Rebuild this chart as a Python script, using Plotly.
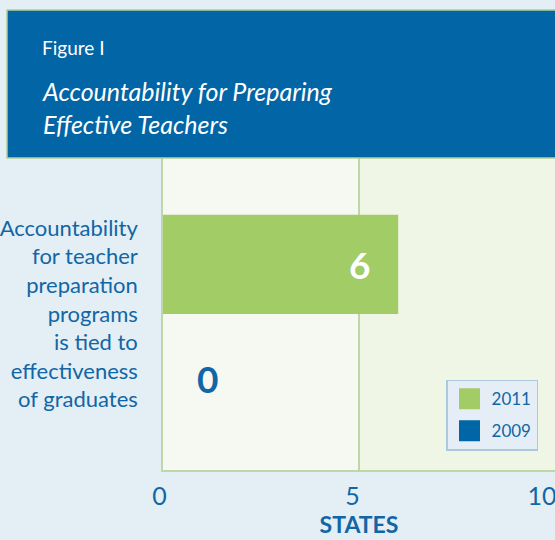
import plotly.graph_objects as go

# ---- data ----
categories = ["Accountability<br>for teacher<br>preparation<br>programs<br>is tied to<br>effectiveness<br>of graduates"]
years = ["2009", "2011"]
values_2009 = [0]
values_2011 = [6]
x_tick_vals = [0, 5, 10]
x_tick_text = ["\u00a0\u00a0\u00a00", "\u00a0\u00a05", "10"]

# ---- style ----
GREEN = "#a2cd66"
BLUE = "#0066a6"
TEXT = "#1166a6"
GRID = "#bdd7a6"
FONT = "Lato"
BARGAP = 0.364

fig = go.Figure()
fig.add_trace(go.Bar(y=categories, x=values_2009, orientation="h", name=years[0],
                     marker=dict(color=BLUE, line=dict(width=0)), showlegend=False))
fig.add_trace(go.Bar(y=categories, x=values_2011, orientation="h", name=years[1],
                     marker=dict(color=GREEN, line=dict(width=0)), showlegend=False))
# legend entries (larger square swatches); 2011 listed first
for yr, col, grp, rank in [(years[1], GREEN, "b", 1), (years[0], BLUE, "a", 2)]:
    fig.add_trace(go.Scatter(x=[None], y=[None], mode="markers", name=yr, legendgroup=grp,
                             legendrank=rank,
                             marker=dict(symbol="square", size=16, color=col,
                                         line=dict(color=col, width=5))))

offset = (1 - BARGAP) / 4  # centre of each grouped bar relative to category
annotations = [
    dict(x=values_2011[0], y=offset, xref="x", yref="y", text=str(values_2011[0]),
         showarrow=False, xanchor="right", xshift=-26,
         font=dict(family=FONT, size=37, color="white", weight="bold")),
    dict(x=values_2009[0], y=-offset, xref="x", yref="y", text=str(values_2009[0]),
         showarrow=False, xanchor="left", xshift=32, yshift=-15,
         font=dict(family=FONT, size=37, color=TEXT, weight="bold")),
    dict(x=-0.3138, y=1.353, xref="paper", yref="paper", text="Figure I",
         showarrow=False, xanchor="left", yanchor="middle",
         font=dict(family=FONT, size=19, color="white")),
    dict(x=-0.3138, y=1.163, xref="paper", yref="paper",
         text="<i>Accountability for Preparing<br>Effective Teachers</i>",
         showarrow=False, xanchor="left", yanchor="middle", align="left",
         font=dict(family=FONT, size=25, color="white")),
]

shapes = [
    dict(type="rect", xref="x", yref="paper", x0=5, x1=10, y0=0, y1=1,
         fillcolor="#eff6e6", line=dict(width=0), layer="below"),
    dict(type="rect", xref="paper", yref="paper", x0=-0.398, x1=1.1, y0=1.0, y1=1.474,
         fillcolor="#0165a6", line=dict(color="#b3cf9b", width=1.5), layer="above"),
]

fig.update_layout(
    template="none",
    width=555, height=540,
    margin=dict(l=163, r=0, t=158, b=70, autoexpand=False),
    paper_bgcolor="#e3eef5",
    plot_bgcolor="#f6f9f1",
    barmode="group",
    bargap=BARGAP,
    font=dict(family=FONT, color=TEXT),
    showlegend=True,
    legend=dict(x=0.722, y=0.062, xanchor="left", yanchor="bottom",
                bgcolor="#e5eef6", bordercolor="#a9c9df", borderwidth=1.5,
                font=dict(family=FONT, size=17, color=TEXT),
                traceorder="grouped", tracegroupgap=7, itemwidth=34),
    annotations=annotations,
    shapes=shapes,
)

fig.update_xaxes(
    automargin=False,
    range=[0, 10], tickvals=x_tick_vals, ticktext=x_tick_text,
    tickfont=dict(family=FONT, size=25, color=TEXT),
    ticks="outside", ticklen=3, tickcolor="rgba(0,0,0,0)",
    ticklabelshift=-13, ticklabeloverflow="allow",
    showgrid=True, gridcolor=GRID, gridwidth=1.5,
    zeroline=False, showline=True, linecolor=GRID, linewidth=1.5,
    title=dict(text="STATES", standoff=8,
               font=dict(family=FONT, size=23, color=TEXT, weight="bold")),
    fixedrange=True,
)
fig.update_yaxes(
    automargin=False,
    tickfont=dict(family=FONT, size=22, color=TEXT),
    ticks="outside", ticklen=19, tickcolor="rgba(0,0,0,0)",
    showline=True, linecolor=GRID, linewidth=1.5,
    showgrid=False, zeroline=False, fixedrange=True,
)

fig.write_html("out.html", config={"displayModeBar": False},
               post_script="document.body.style.margin='0';document.body.style.overflow='hidden';")
